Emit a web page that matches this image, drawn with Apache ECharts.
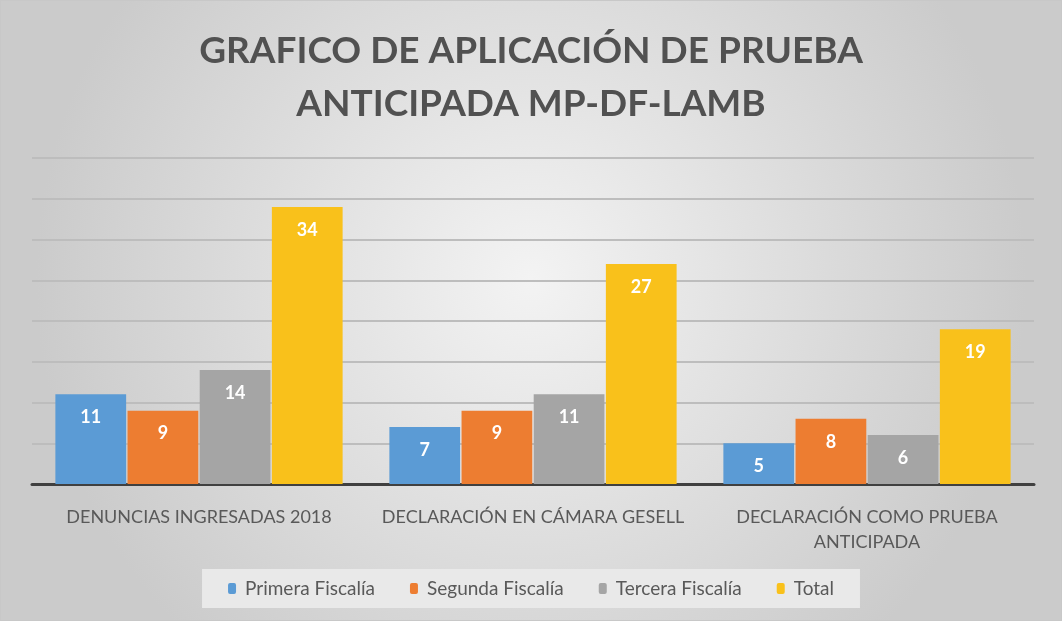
<!DOCTYPE html>
<html>
<head>
<meta charset="utf-8">
<script src="https://cdn.jsdelivr.net/npm/echarts@6/dist/echarts.min.js"></script>
<style>
  html, body { margin: 0; padding: 0; background: #fff; }
  #chart { width: 1062px; height: 621px; box-sizing: border-box; border: 1px solid #c8c8c8; }
</style>
</head>
<body>
<div id="chart"></div>
<script>
  const categories = ['DENUNCIAS INGRESADAS 2018', 'DECLARACIÓN EN CÁMARA GESELL', 'DECLARACIÓN COMO PRUEBA\nANTICIPADA'];
  const primera = [11, 7, 5];
  const segunda = [9, 9, 8];
  const tercera = [14, 11, 6];
  const total = [34, 27, 19];

  const chart = echarts.init(document.getElementById('chart'));

  const labelStyle = {
    show: true,
    position: 'insideTop',
    distance: 14,
    color: '#ffffff',
    fontSize: 18,
    fontWeight: 'bold',
    fontFamily: 'Lato'
  };

  function bar(name, data, color) {
    return {
      name: name,
      type: 'bar',
      data: data,
      barGap: '2%',
      barCategoryGap: '14%',
      itemStyle: { color: color },
      label: labelStyle
    };
  }

  const option = {
    backgroundColor: {
      type: 'radial', x: 0.5, y: 0.45, r: 0.8,
      colorStops: [
        { offset: 0, color: '#f3f3f3' },
        { offset: 1, color: '#cbcbcb' }
      ]
    },
    title: {
      text: 'GRAFICO DE APLICACIÓN DE PRUEBA\nANTICIPADA MP-DF-LAMB',
      left: 'center',
      top: 19,
      textStyle: {
        color: '#515151',
        fontSize: 37,
        fontWeight: 'bold',
        fontFamily: 'Lato',
        lineHeight: 53
      }
    },
    legend: {
      bottom: 12,
      left: 'center',
      itemWidth: 8,
      itemHeight: 11,
      itemGap: 35,
      padding: [10, 26],
      backgroundColor: '#e9e9e9',
      textStyle: { color: '#595959', fontSize: 19, fontFamily: 'Lato', padding: [0, 0, 0, 4] },
      data: ['Primera Fiscalía', 'Segunda Fiscalía', 'Tercera Fiscalía', 'Total']
    },
    grid: { left: 31, right: 27, top: 157, bottom: 136 },
    xAxis: {
      type: 'category',
      data: categories,
      axisLine: { show: true, lineStyle: { color: '#404040', width: 3 } },
      axisTick: { show: false },
      axisLabel: {
        color: '#595959',
        fontSize: 18,
        fontFamily: 'Lato',
        margin: 21,
        lineHeight: 25,
        interval: 0
      }
    },
    yAxis: {
      type: 'value',
      min: 0,
      max: 40,
      interval: 5,
      axisLabel: { show: false },
      axisLine: { show: false },
      axisTick: { show: false },
      splitLine: { lineStyle: { color: '#bdbdbd', width: 2 } }
    },
    series: [
      bar('Primera Fiscalía', primera, '#5b9bd5'),
      bar('Segunda Fiscalía', segunda, '#ed7d31'),
      bar('Tercera Fiscalía', tercera, '#a5a5a5'),
      bar('Total', total, '#f9c11b')
    ]
  };

  chart.setOption(option);
</script>
</body>
</html>
